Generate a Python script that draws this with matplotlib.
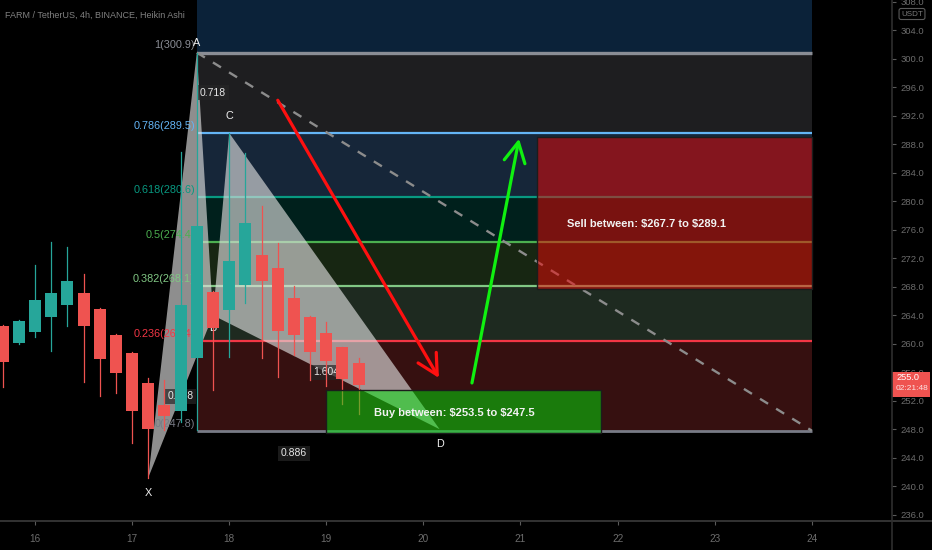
import matplotlib
matplotlib.use('Agg')
import matplotlib.pyplot as plt
import numpy as np
from matplotlib import font_manager
from matplotlib.patches import Rectangle, Polygon
from matplotlib.lines import Line2D
import matplotlib.transforms as mtransforms

# ---------------- data ----------------
title_text = "FARM / TetherUS, 4h, BINANCE, Heikin Ashi"
start_day = 15 + 4 / 24 * 4          # first visible candle (day of month)
candle_hours = 4
opens  = [262.5, 260.1, 261.6, 263.8, 265.5, 267.2, 264.9, 261.3, 258.7, 254.5, 251.4, 250.6,
          258.0, 267.3, 264.8, 268.2, 272.5, 270.7, 266.4, 263.8, 261.5, 259.5, 257.3]
closes = [257.5, 263.2, 266.1, 267.2, 268.8, 262.5, 257.8, 255.9, 250.5, 248.0, 249.9, 265.4,
          276.5, 262.2, 271.6, 276.9, 268.8, 261.8, 261.2, 258.9, 257.6, 255.1, 254.2]
highs  = [262.6, 263.4, 271.1, 274.3, 273.6, 269.8, 265.0, 261.4, 258.8, 255.2, 254.9, 286.9,
          300.9, 267.4, 289.6, 286.8, 279.3, 274.2, 268.1, 263.9, 263.0, 259.6, 258.0]
lows   = [253.9, 260.0, 261.0, 259.0, 262.5, 254.6, 252.7, 253.1, 246.1, 241.2, 247.9, 249.0,
          247.9, 253.5, 258.2, 265.7, 258.0, 255.4, 258.4, 254.9, 254.0, 251.6, 250.1]

# Fibonacci retracement (from X-low to A-high)
fib_low, fib_high = 247.8, 300.9
fib_start_day, fib_end_day = 17 + 16 / 24, 24.0
fib_ratios = [1.272, 1.0, 0.786, 0.618, 0.5, 0.382, 0.236, 0.0]
fib_labels = ["", "1(300.9)", "0.786(289.5)", "0.618(280.6)", "0.5(274.4)",
              "0.382(268.1)", "0.236(260.4)", "0(247.8)"]

# XABCD harmonic pattern
pattern_names = ["X", "A", "B", "C", "D"]
pattern_days = [17 + 4 / 24, 17 + 16 / 24, 17 + 20 / 24, 18.0, 20 + 4 / 24]
pattern_prices = [241.2, 300.9, 264.0, 289.6, 248.0]
ratio_pairs = [("X", "B"), ("A", "C"), ("B", "D"), ("X", "D")]
ratio_texts = ["0.618", "0.718", "1.604", "0.886"]

# trend line
trend_days = [17 + 16 / 24, 24.0]
trend_prices = [300.9, 247.8]

# arrows (start, end)
red_arrow_days, red_arrow_prices = [18.5, 20.16], [294.2, 255.2]
green_arrow_days, green_arrow_prices = [20.5, 20.985], [254.5, 288.8]

# zones
buy_days, buy_prices = [19.0, 21 + 20 / 24], [247.5, 253.5]
sell_days, sell_prices = [21 + 4 / 24, 24.0], [267.7, 289.1]
buy_text = "Buy between: $253.5 to $247.5"
sell_text = "Sell between: $267.7 to $289.1"

last_price = 255.0
countdown = "02:21:48"
x_ticks = [16, 17, 18, 19, 20, 21, 22, 23, 24]
y_ticks = list(range(236, 309, 4))

# ---------------- fonts ----------------
names = {f.name for f in font_manager.fontManager.ttflist}
if 'Liberation Sans Narrow' in names:
    FONT = dict(family=['Liberation Sans Narrow', 'DejaVu Sans'])
    SC = 1.15
else:
    FONT = dict(family=['Liberation Sans', 'DejaVu Sans'])
    SC = 1.0

# ---------------- figure ----------------
W, H = 932, 550
fig = plt.figure(figsize=(W / 100, H / 100), dpi=100, facecolor='black')
ax = fig.add_axes([0, 29 / H, 892 / W, 521 / H])
ax.set_facecolor('black')
ax.set_xlim(15.6395, 24.826)
ax.set_ylim(235.11, 308.28)

# fib bands and lines
levels = [fib_low + r * (fib_high - fib_low) for r in fib_ratios]
band_colors = ['#0b2239', '#1e1e20', '#162639', '#00201c', '#172612', '#1e2a20', '#361010']
line_colors = ['#0b2239', '#8a8d95', '#64b5f6', '#089981', '#4caf50', '#81c784', '#f23645', '#787b86']
line_widths = [0, 2.4, 1.6, 1.6, 1.6, 1.6, 1.6, 2.0]
for i in range(len(levels) - 1):
    ax.fill_between(fib_start_day + np.array([0, fib_end_day - fib_start_day]), levels[i + 1], levels[i],
                    color=band_colors[i], lw=0, zorder=1)
for lvl, col, lw, lab in zip(levels, line_colors, line_widths, fib_labels):
    if lw > 0:
        ax.plot([fib_start_day, fib_end_day], [lvl, lvl], color=col, lw=lw, zorder=2,
                solid_capstyle='butt')
    if lab:
        ax.annotate(lab, (fib_start_day, lvl), xytext=(-1.5, 1.5), textcoords='offset points',
                    ha='right', va='bottom', color=col, fontsize=7.8 * SC, zorder=3.5, **FONT)

# trend dashed line
ax.plot(trend_days, trend_prices, color='#8c8c8c', lw=1.7, ls=(0, (4, 4)), zorder=2.5)

# harmonic pattern triangles
pts = {n: (d, p) for n, d, p in zip(pattern_names, pattern_days, pattern_prices)}
for tri in [("X", "A", "B"), ("B", "C", "D")]:
    ax.add_patch(Polygon([pts[t] for t in tri], closed=True, facecolor='#e0e0e0',
                         alpha=0.64, edgecolor='none', zorder=3))
label_off = {"X": (0, -11), "A": (0, 7), "B": (0, -9), "C": (0, 12), "D": (0, -11)}
for n in pattern_names:
    ax.annotate(n, pts[n], xytext=label_off[n], textcoords='offset points', ha='center',
                va='center', color='#f0f0f0', fontsize=7.8 * SC, zorder=3.6, **FONT)
for (a, b), t in zip(ratio_pairs, ratio_texts):
    mx = (pts[a][0] + pts[b][0]) / 2
    my = (pts[a][1] + pts[b][1]) / 2
    ax.text(mx, my, t, ha='center', va='center', color='#e8e8e8', fontsize=7.5 * SC, zorder=3.5,
            bbox=dict(boxstyle='square,pad=0.25', fc=(0.15, 0.15, 0.15, 0.7), ec='none'), **FONT)

# candles
times = start_day + np.arange(len(opens)) * candle_hours / 24
bw = 0.74 * candle_hours / 24
for t, o, c, h, l in zip(times, opens, closes, highs, lows):
    col = '#26a69a' if c >= o else '#ef5350'
    ax.plot([t, t], [l, h], color=col, lw=0.9, zorder=4)
    ax.add_patch(Rectangle((t - bw / 2, min(o, c)), bw, abs(c - o), facecolor=col,
                           edgecolor='none', zorder=4))

# zones
ax.add_patch(Rectangle((buy_days[0], buy_prices[0]), buy_days[1] - buy_days[0],
                       buy_prices[1] - buy_prices[0], facecolor=(0.0, 0.9, 0.04, 0.5),
                       edgecolor='#1c1c1c', lw=1, zorder=5))
ax.add_patch(Rectangle((sell_days[0], sell_prices[0]), sell_days[1] - sell_days[0],
                       sell_prices[1] - sell_prices[0], facecolor=(0.95, 0.02, 0.02, 0.5),
                       edgecolor='#1c1c1c', lw=1, zorder=5))
ax.text(20.315, 250.3, buy_text, ha='center', va='center', color='#f2f2f2', fontsize=8.0 * SC,
        fontweight='bold', zorder=6, parse_math=False, **FONT)
ax.text(22.30, 276.8, sell_text, ha='center', va='center', color='#f2f2f2', fontsize=8.0 * SC,
        fontweight='bold', zorder=6, parse_math=False, **FONT)

# arrows
ax.annotate('', xy=(red_arrow_days[1], red_arrow_prices[1]),
            xytext=(red_arrow_days[0], red_arrow_prices[0]),
            arrowprops=dict(arrowstyle='->,head_length=0.8,head_width=0.42', color='#ff1010',
                            lw=2.3, shrinkA=0, shrinkB=0, mutation_scale=18), zorder=6)
ax.annotate('', xy=(green_arrow_days[1], green_arrow_prices[1]),
            xytext=(green_arrow_days[0], green_arrow_prices[0]),
            arrowprops=dict(arrowstyle='->,head_length=0.8,head_width=0.42', color='#10f010',
                            lw=2.3, shrinkA=0, shrinkB=0, mutation_scale=18), zorder=6)

# axes styling
for s in ['top', 'left', 'right', 'bottom']:
    ax.spines[s].set_visible(False)
ax.yaxis.tick_right()
ax.set_yticks(y_ticks)
ax.set_yticklabels([f"{v:.1f}" for v in y_ticks])
ax.set_xticks(x_ticks)
ax.set_xticklabels([str(v) for v in x_ticks])
ax.tick_params(axis='y', colors='#5a5a5a', labelcolor='#6c6c6c', length=3, width=0.8, pad=3,
               labelsize=6.8 * SC)
ax.tick_params(axis='x', colors='#5a5a5a', labelcolor='#6c6c6c', length=3, width=0.8, pad=6,
               labelsize=7.2 * SC)
for lab in ax.get_xticklabels() + ax.get_yticklabels():
    lab.set_fontfamily(FONT['family'])

# frame lines
fig.add_artist(Line2D([0, 1], [29 / H, 29 / H], transform=fig.transFigure, color='#3c3c3c', lw=1.2))
fig.add_artist(Line2D([892 / W, 892 / W], [0, 1], transform=fig.transFigure, color='#2e2e2e', lw=1.2))

# header
fig.text(5 / W, 1 - 15 / H, title_text, ha='left', va='center', color='#808080', fontsize=6.5 * SC,
         **FONT)

# USDT box
fig.text(912 / W, 1 - 14 / H, "USDT", ha='center', va='center', color='#7a7a7a', fontsize=5.8 * SC,
         bbox=dict(boxstyle='round,pad=0.25', fc='black', ec='#5a5a5a', lw=0.8), **FONT)

# last price label
blend = mtransforms.blended_transform_factory(ax.transAxes, ax.transData)
ax.add_patch(Rectangle((1.0, last_price - 2.45), 38 / 892, 3.55, transform=blend,
                       facecolor='#ef5350', edgecolor='none', clip_on=False, zorder=10))
ax.text(1.0 + 4 / 892, last_price + 0.25, f"{last_price:.1f}", transform=blend, ha='left',
        va='center', color='white', fontsize=6.6 * SC, clip_on=False, zorder=11, **FONT)
ax.text(1.0 + 4 / 892, last_price - 1.35, countdown, transform=blend, ha='left',
        va='center', color='#fbe3e3', fontsize=6.0 * SC, clip_on=False, zorder=11, **FONT)

fig.savefig('out.png', dpi=100, facecolor='black')
